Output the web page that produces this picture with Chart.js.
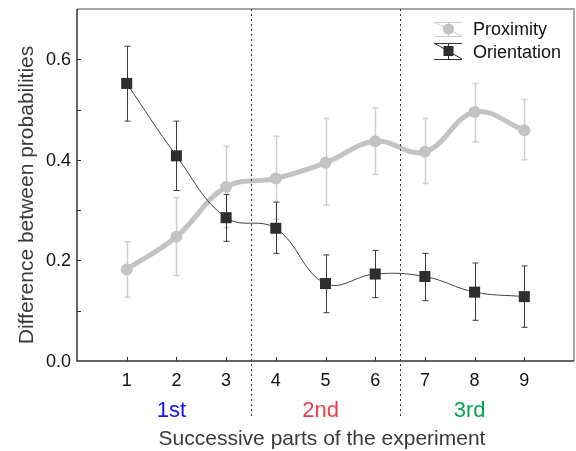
<!DOCTYPE html>
<html>
<head>
<meta charset="utf-8">
<script src="https://cdn.jsdelivr.net/npm/chart.js@4/dist/chart.umd.min.js"></script>
<style>
  html, body { margin: 0; padding: 0; background: #fff; }
  #wrap { width: 576px; height: 451px; }
</style>
</head>
<body>
<div id="wrap"><canvas id="c" width="576" height="451"></canvas></div>
<script>
// Successive parts of the experiment (x positions)
const parts = [1, 2, 3, 4, 5, 6, 7, 8, 9];

// Proximity: mean difference and error-bar limits
const proximity     = [0.182, 0.247, 0.346, 0.363, 0.394, 0.437, 0.416, 0.495, 0.459];
const proximityLow  = [0.127, 0.170, 0.265, 0.282, 0.310, 0.371, 0.353, 0.436, 0.400];
const proximityHigh = [0.237, 0.325, 0.427, 0.447, 0.482, 0.503, 0.482, 0.552, 0.520];

// Orientation: mean difference and error-bar limits
const orientation     = [0.552, 0.408, 0.285, 0.264, 0.154, 0.173, 0.168, 0.137, 0.128];
const orientationLow  = [0.477, 0.339, 0.238, 0.214, 0.096, 0.126, 0.120, 0.081, 0.067];
const orientationHigh = [0.626, 0.477, 0.331, 0.316, 0.211, 0.220, 0.214, 0.195, 0.189];

// Axis tick labels
const xTickLabels = ['1', '2', '3', '4', '5', '6', '7', '8', '9'];
const yTickValues = [0, 0.2, 0.4, 0.6];
const yMinorTicks = [0.1, 0.2, 0.3, 0.4, 0.5, 0.6];

// Experiment sections
const sectionNames   = ['1st', '2nd', '3rd'];
const sectionCenters = [1.9, 4.9, 7.9];
const sectionColors  = ['#1212f2', '#ee3b47', '#00a651'];
const sectionBreaks  = [3.5, 6.5];

const FONT = '"Liberation Sans", Arial, Helvetica, sans-serif';

const errorBars = {
  proximity:   { low: proximityLow,  high: proximityHigh,  color: '#cfcfcf', width: 1.5, cap: 3 },
  orientation: { low: orientationLow, high: orientationHigh, color: '#3a3a3a', width: 1,   cap: 3 }
};

const decorPlugin = {
  id: 'decor',
  beforeDatasetDraw(chart, args) {
    const ds = chart.data.datasets[args.index];
    const eb = errorBars[ds.key];
    if (!eb) return;
    const { ctx, scales: { x, y } } = chart;
    ctx.save();
    ctx.strokeStyle = eb.color;
    ctx.lineWidth = eb.width;
    parts.forEach((p, i) => {
      const px = Math.round(x.getPixelForValue(p)) + 0.5;
      const yl = y.getPixelForValue(eb.low[i]);
      const yh = y.getPixelForValue(eb.high[i]);
      ctx.beginPath();
      ctx.moveTo(px, yl); ctx.lineTo(px, yh);
      ctx.moveTo(px - eb.cap, yl); ctx.lineTo(px + eb.cap, yl);
      ctx.moveTo(px - eb.cap, yh); ctx.lineTo(px + eb.cap, yh);
      ctx.stroke();
    });
    ctx.restore();
  },
  afterDraw(chart) {
    const { ctx, chartArea: a, scales: { x, y } } = chart;
    ctx.save();

    // frame
    ctx.lineWidth = 1.5;
    ctx.strokeStyle = '#8a8a8a';
    ctx.beginPath();
    ctx.moveTo(a.left, a.top); ctx.lineTo(a.right, a.top); ctx.lineTo(a.right, a.bottom);
    ctx.stroke();
    ctx.strokeStyle = '#333';
    ctx.beginPath();
    ctx.moveTo(a.left, a.top); ctx.lineTo(a.left, a.bottom); ctx.lineTo(a.right, a.bottom);
    ctx.stroke();

    // inward tick marks
    ctx.lineWidth = 1;
    ctx.beginPath();
    parts.forEach(p => {
      const px = Math.round(x.getPixelForValue(p)) + 0.5;
      ctx.moveTo(px, a.bottom); ctx.lineTo(px, a.bottom - 4);
    });
    yMinorTicks.forEach(v => {
      const py = Math.round(y.getPixelForValue(v)) + 0.5;
      ctx.moveTo(a.left, py); ctx.lineTo(a.left + 4, py);
    });
    ctx.stroke();

    // tick labels
    ctx.fillStyle = '#111';
    ctx.font = '18px ' + FONT;
    ctx.textAlign = 'center';
    ctx.textBaseline = 'alphabetic';
    parts.forEach((p, i) => {
      ctx.fillText(xTickLabels[i], x.getPixelForValue(p), 386);
    });
    ctx.textAlign = 'right';
    ctx.textBaseline = 'middle';
    yTickValues.forEach(v => {
      ctx.fillText(v.toFixed(1), 71, y.getPixelForValue(v) + 1);
    });

    // section separators
    ctx.strokeStyle = '#333';
    ctx.lineWidth = 1;
    ctx.setLineDash([2, 3]);
    sectionBreaks.forEach(b => {
      const px = Math.round(x.getPixelForValue(b)) + 0.5;
      ctx.beginPath();
      ctx.moveTo(px, a.top); ctx.lineTo(px, 418);
      ctx.stroke();
    });
    ctx.setLineDash([]);

    // section names
    ctx.font = '22px ' + FONT;
    ctx.textAlign = 'center';
    ctx.textBaseline = 'alphabetic';
    sectionNames.forEach((n, i) => {
      ctx.fillStyle = sectionColors[i];
      ctx.fillText(n, x.getPixelForValue(sectionCenters[i]), 417);
    });

    // axis titles
    ctx.fillStyle = '#3a3a3a';
    ctx.font = '21px ' + FONT;
    ctx.fillText('Successive parts of the experiment', 322, 445);
    ctx.save();
    ctx.translate(33, 195);
    ctx.rotate(-Math.PI / 2);
    ctx.fillText('Difference between probabilities', 0, 0);
    ctx.restore();

    // legend
    const items = [
      { label: 'Proximity',   top: 22, bot: 36, color: '#c3c3c3', bar: '#cfcfcf', shape: 'circle' },
      { label: 'Orientation', top: 43, bot: 59, color: '#2f2d2e', bar: '#333333', shape: 'rect' }
    ];
    const lx0 = 434, lx1 = 462, cx = 448.5;
    items.forEach(it => {
      const cy = (it.top + it.bot) / 2;
      ctx.strokeStyle = it.bar;
      ctx.lineWidth = 1;
      ctx.beginPath();
      ctx.moveTo(lx0, it.top + 0.5); ctx.lineTo(lx1, it.top + 0.5);
      ctx.moveTo(lx0, it.bot + 0.5); ctx.lineTo(lx1, it.bot + 0.5);
      ctx.moveTo(lx0, it.top); ctx.lineTo(lx1, it.bot);
      ctx.moveTo(cx, it.top); ctx.lineTo(cx, it.bot);
      ctx.stroke();
      ctx.fillStyle = it.color;
      if (it.shape === 'circle') {
        ctx.beginPath(); ctx.arc(cx, cy, 5.5, 0, Math.PI * 2); ctx.fill();
      } else {
        ctx.fillRect(cx - 5, cy - 5, 10, 10);
      }
      ctx.fillStyle = '#111';
      ctx.font = '18px ' + FONT;
      ctx.textAlign = 'left';
      ctx.fillText(it.label, 473, it.bot - 1);
    });

    ctx.restore();
  }
};

new Chart(document.getElementById('c'), {
  type: 'line',
  data: {
    labels: parts,
    datasets: [
      {
        key: 'proximity',
        label: 'Proximity',
        data: parts.map((p, i) => ({ x: p, y: proximity[i] })),
        borderColor: '#c3c3c3',
        backgroundColor: '#c3c3c3',
        borderWidth: 5,
        pointRadius: 6,
        pointStyle: 'circle',
        pointBorderWidth: 0,
        tension: 0.4,
        order: 1
      },
      {
        key: 'orientation',
        label: 'Orientation',
        data: parts.map((p, i) => ({ x: p, y: orientation[i] })),
        borderColor: '#444',
        backgroundColor: '#2f2d2e',
        borderWidth: 1,
        pointRadius: 7.8,
        pointStyle: 'rect',
        pointBorderWidth: 0,
        tension: 0.4,
        order: 0
      }
    ]
  },
  options: {
    responsive: false,
    animation: false,
    layout: { autoPadding: false, padding: { top: 9, right: 2, left: 0, bottom: 0 } },
    plugins: { legend: { display: false }, tooltip: { enabled: false } },
    scales: {
      x: {
        type: 'linear',
        min: 0, max: 10,
        afterFit: s => { s.height = 90; },
        grid: { display: false },
        border: { display: false },
        ticks: { display: false, stepSize: 1 }
      },
      y: {
        type: 'linear',
        min: 0, max: 0.7,
        afterFit: s => { s.width = 77; },
        grid: { display: false },
        border: { display: false },
        ticks: { display: false, stepSize: 0.1 }
      }
    }
  },
  plugins: [decorPlugin]
});
</script>
</body>
</html>
